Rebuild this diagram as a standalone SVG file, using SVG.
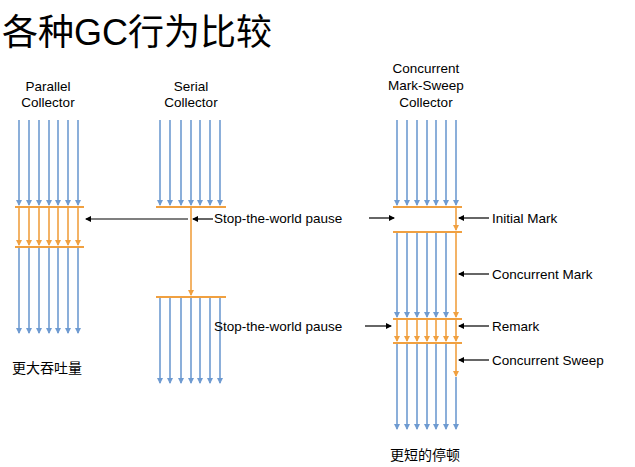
<svg xmlns="http://www.w3.org/2000/svg" width="635" height="467" viewBox="0 0 635 467">
<style>
text{font-family:"Liberation Sans","Noto Sans CJK SC",sans-serif;fill:#000}
.h{font-size:13.5px;text-anchor:middle}
.l{font-size:13.5px}
.b{stroke:#6f9bd1;stroke-width:1.6;marker-end:url(#mb)}
.o{stroke:#f0a040;stroke-width:1.6;marker-end:url(#mo)}
.bar{stroke:#f0a040;stroke-width:2}
.k{stroke:#000;stroke-width:1.2;marker-end:url(#mk)}
</style>
<defs>
<marker id="mb" markerWidth="6" markerHeight="6" refX="5" refY="3" orient="auto" markerUnits="userSpaceOnUse"><path d="M0,0L6,3L0,6z" fill="#6f9bd1"/></marker>
<marker id="mo" markerWidth="6" markerHeight="6" refX="5" refY="3" orient="auto" markerUnits="userSpaceOnUse"><path d="M0,0L6,3L0,6z" fill="#f0a040"/></marker>
<marker id="mk" markerWidth="6" markerHeight="6" refX="5" refY="3" orient="auto" markerUnits="userSpaceOnUse"><path d="M0,0L6,3L0,6z" fill="#000"/></marker>
</defs>
<rect width="635" height="467" fill="#fff"/>
<text x="2" y="45" style="font-size:36px">各种GC行为比较</text>

<g id="parallel">
<text class="h" x="48" y="91">Parallel</text>
<text class="h" x="48" y="107">Collector</text>
<path class="b" d="M19,120V205"/><path class="b" d="M29,120V205"/><path class="b" d="M39,120V205"/><path class="b" d="M49,120V205"/><path class="b" d="M58,120V205"/><path class="b" d="M68,120V205"/><path class="b" d="M78,120V205"/>
<path class="bar" d="M15,207H84M15,247H84"/>
<path class="o" d="M19,208V245"/><path class="o" d="M29,208V245"/><path class="o" d="M39,208V245"/><path class="o" d="M49,208V245"/><path class="o" d="M58,208V245"/><path class="o" d="M68,208V245"/><path class="o" d="M78,208V245"/>
<path class="b" d="M19,248V333"/><path class="b" d="M29,248V333"/><path class="b" d="M39,248V333"/><path class="b" d="M49,248V333"/><path class="b" d="M58,248V333"/><path class="b" d="M68,248V333"/><path class="b" d="M78,248V333"/>
<text x="12" y="373" style="font-size:14px">更大吞吐量</text>
</g>

<g id="serial">
<text class="h" x="191" y="91">Serial</text>
<text class="h" x="191" y="107">Collector</text>
<path class="b" d="M160,120V205"/><path class="b" d="M170,120V205"/><path class="b" d="M181,120V205"/><path class="b" d="M191,120V205"/><path class="b" d="M200,120V205"/><path class="b" d="M210,120V205"/><path class="b" d="M220,120V205"/>
<path class="bar" d="M156,207H226M156,297H226"/>
<path class="o" d="M191,208V295"/>
<path class="b" d="M160,298V383"/><path class="b" d="M170,298V383"/><path class="b" d="M181,298V383"/><path class="b" d="M191,298V383"/><path class="b" d="M200,298V383"/><path class="b" d="M210,298V383"/><path class="b" d="M220,298V383"/>
</g>

<g id="cms">
<text class="h" x="426" y="73">Concurrent</text>
<text class="h" x="426" y="90">Mark-Sweep</text>
<text class="h" x="426" y="107">Collector</text>
<path class="b" d="M397,120V205"/><path class="b" d="M407,120V205"/><path class="b" d="M417,120V205"/><path class="b" d="M427,120V205"/><path class="b" d="M436,120V205"/><path class="b" d="M446,120V205"/><path class="b" d="M456,120V205"/>
<path class="bar" d="M393,207H462M393,232H462M393,319H462M393,343H462"/>
<path class="o" d="M456,208V230"/>
<path class="b" d="M397,233V317"/><path class="b" d="M407,233V317"/><path class="b" d="M417,233V317"/><path class="b" d="M427,233V317"/><path class="b" d="M436,233V317"/><path class="b" d="M446,233V317"/>
<path class="o" d="M456,233V317"/>
<path class="o" d="M397,320V341"/><path class="o" d="M407,320V341"/><path class="o" d="M417,320V341"/><path class="o" d="M427,320V341"/><path class="o" d="M436,320V341"/><path class="o" d="M446,320V341"/><path class="o" d="M456,320V341"/>
<path class="b" d="M397,344V429"/><path class="b" d="M407,344V429"/><path class="b" d="M417,344V429"/><path class="b" d="M427,344V429"/><path class="b" d="M436,344V429"/><path class="b" d="M446,344V429"/><path class="b" d="M456,377V429"/>
<path class="o" d="M456,344V376"/>
<text x="390" y="460" style="font-size:14px">更短的停顿</text>
</g>

<g id="labels">
<text class="l" x="214" y="223">Stop-the-world pause</text>
<text class="l" x="214" y="331">Stop-the-world pause</text>
<text class="l" x="492" y="223">Initial Mark</text>
<text class="l" x="492" y="279">Concurrent Mark</text>
<text class="l" x="492" y="331">Remark</text>
<text class="l" x="492" y="365">Concurrent Sweep</text>
</g>

<g id="connectors">
<path class="k" d="M188,219H86"/>
<path class="k" d="M213,219H193"/>
<path class="k" d="M369,218H394"/>
<path class="k" d="M365,326H391"/>
<path class="k" d="M489,218H459"/>
<path class="k" d="M489,274H459"/>
<path class="k" d="M489,326H459"/>
<path class="k" d="M489,360H459"/>
</g>
</svg>
